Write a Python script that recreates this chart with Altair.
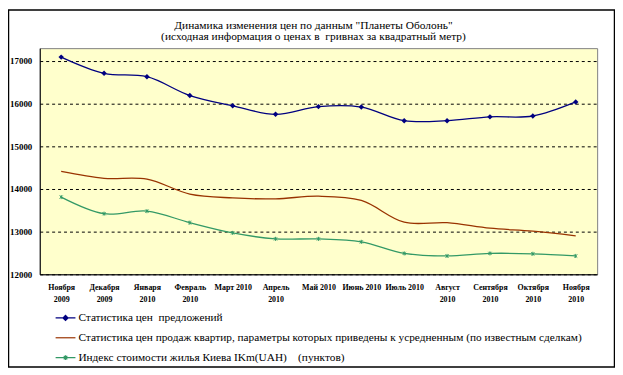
import altair as alt
import pandas as pd

# ---- data ----
month_names = ["Ноября", "Декабря", "Января", "Февраль", "Март 2010", "Апрель",
               "Май 2010", "Июнь 2010", "Июль 2010", "Август", "Сентября", "Октября", "Ноября"]
month_years = ["2009", "2009", "2010", "2010", "", "2010", "", "", "", "2010", "2010", "2010", "2010"]

series_names = [
    "Статистика цен \u00a0предложений",
    "Статистика цен продаж квартир, параметры которых приведены к усредненным (по известным сделкам)",
    "Индекс стоимости жилья Киева IKm(UAH) \u00a0\u00a0\u00a0(пунктов)",
]
offers = [17090, 16710, 16630, 16190, 15950, 15750, 15930, 15920, 15600, 15600, 15690, 15710, 16040]
sales = [14410, 14250, 14230, 13880, 13790, 13770, 13830, 13730, 13220, 13210, 13080, 13010, 12900]
index_vals = [13810, 13420, 13480, 13210, 12970, 12830, 12830, 12760, 12490, 12430, 12490, 12480, 12430]

y_ticks = [12000, 13000, 14000, 15000, 16000, 17000]
title_lines = ["Динамика изменения цен по данным \"Планеты Оболонь\"",
               "(исходная информация о ценах в \u00a0гривнах за квадратный метр)"]

colors = ["#000080", "#993300", "#339966"]
legend_shapes = [
    "M-1,0L1,0M0,-0.26L0.26,0L0,0.26L-0.26,0Z",
    "M-1,0L1,0",
    "M-1,0L1,0M-0.18,-0.18L0.18,0.18M-0.18,0.18L0.18,-0.18M0,-0.25L0,0.25",
]
asterisk = "M-1,-1L1,1M-1,1L1,-1M0,-1.3L0,1.3"

month_labels = [n + "|" + y for n, y in zip(month_names, month_years)]
rows = []
for name, vals in zip(series_names, [offers, sales, index_vals]):
    for m, v in zip(month_labels, vals):
        rows.append({"month": m, "series": name, "value": v})
df = pd.DataFrame(rows)

FONT = "Times New Roman, Liberation Serif, DejaVu Serif, serif"

x_enc = alt.X("month:O", sort=month_labels,
              scale=alt.Scale(type="point", padding=0.5, domain=month_labels),
              axis=alt.Axis(title=None, labelAngle=0, labelExpr="split(datum.label, '|')",
                            labelFont=FONT, labelFontSize=8, labelFontWeight="bold",
                            labelColor="black", labelLineHeight=12, labelPadding=9,
                            ticks=False, tickSize=0, domainColor="black", domainWidth=1,
                            grid=False))
y_enc = alt.Y("value:Q",
              scale=alt.Scale(domain=[12000, 17300], nice=False, zero=False),
              axis=alt.Axis(title=None, values=y_ticks, format="d",
                            labelFont=FONT, labelFontSize=9, labelFontWeight="bold",
                            labelColor="black", labelPadding=8, ticks=False, tickSize=0,
                            domainColor="black", domainWidth=1,
                            grid=True, gridColor="black", gridDash=[3, 3], gridWidth=1))

base = alt.Chart(df)

frame = alt.Chart(alt.Data(values=[{"a": 1}])).mark_rect(
    fill="transparent", stroke="black", strokeWidth=1.5
).encode(x=alt.value(-31.5), x2=alt.value(579.5), y=alt.value(-38.5), y2=alt.value(321.5))

line_layers = [
    base.transform_filter(alt.datum.series == name).mark_line(
        interpolate="catmull-rom", strokeWidth=1.3, color=col
    ).encode(x=x_enc, y=y_enc)
    for name, col in zip(series_names, colors)
]

blue_pts = base.transform_filter(alt.datum.series == series_names[0]).mark_point(
    shape="diamond", filled=True, size=30, color=colors[0], opacity=1
).encode(x=x_enc, y=y_enc)

green_pts = base.transform_filter(alt.datum.series == series_names[2]).mark_point(
    shape=asterisk, filled=False, size=10, color=colors[2], strokeWidth=1, opacity=1
).encode(x=x_enc, y=y_enc)

leg = alt.Legend(title=None, orient="none", legendX=15, legendY=261, direction="vertical",
                 symbolSize=400, symbolStrokeWidth=1.2, symbolOpacity=1,
                 labelFont=FONT, labelFontSize=11.4, labelColor="black", labelLimit=700,
                 labelOffset=2, rowPadding=3, padding=0)

legend_layer = base.transform_filter(alt.datum.value < 0).mark_point(strokeWidth=1.2).encode(
    x=x_enc, y=y_enc,
    stroke=alt.Stroke("series:N", scale=alt.Scale(domain=series_names, range=colors), legend=leg),
    fill=alt.Fill("series:N", scale=alt.Scale(domain=series_names, range=colors), legend=leg),
    shape=alt.Shape("series:N", scale=alt.Scale(domain=series_names, range=legend_shapes), legend=leg),
)

chart = alt.layer(frame, *line_layers, blue_pts, green_pts, legend_layer).properties(
    width=562, height=228,
    autosize=alt.AutoSizeParams(type="none"),
    padding={"left": 32, "top": 39, "right": 18, "bottom": 94},
    background="white",
    title=alt.TitleParams(text=title_lines, font=FONT, fontSize=11.5, fontWeight="normal",
                          color="black", anchor="middle", frame="group", dx=-5,
                          lineHeight=11.5, offset=0, dy=33.5),
).configure_view(fill="#FFFFCC", stroke="#808080", strokeWidth=1)

chart.save("out.html", embed_options={"renderer": "svg", "actions": False})
